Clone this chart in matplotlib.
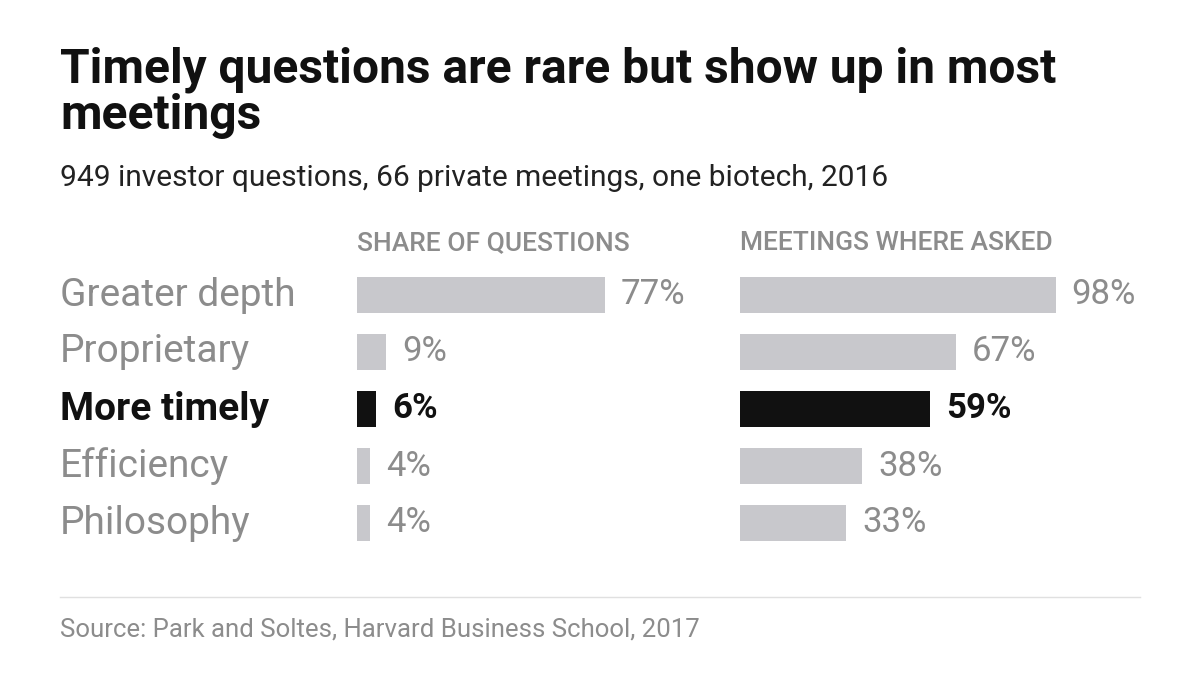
import matplotlib.pyplot as plt

categories = ["Greater depth", "Proprietary", "More timely", "Efficiency", "Philosophy"]
share_of_questions = [77, 9, 6, 4, 4]
meetings_where_asked = [98, 67, 59, 38, 33]
highlight = "More timely"

W, H = 1200, 675
fig = plt.figure(figsize=(12, 6.75), dpi=100)
plt.rcParams['font.family'] = ['Roboto', 'DejaVu Sans']

GREY_BAR = "#c8c8cc"
GREY_TXT = "#8c8c8c"
BLACK = "#111111"


def fx(px):
    return px / W


def fy(py):
    return 1 - py / H


fig.text(fx(60), fy(93), "Timely questions are rare but show up in most\nmeetings",
         fontsize=34.5, fontweight="bold", color=BLACK, va="center", linespacing=1.0)
fig.text(fx(60), fy(178), "949 investor questions, 66 private meetings, one biotech, 2016",
         fontsize=21.5, color="#222222", va="center")

row_top, row_h = 266.5, 57
panels = [(357, share_of_questions, "SHARE OF QUESTIONS"),
          (740, meetings_where_asked, "MEETINGS WHERE ASKED")]
for x0, vals, head in panels:
    ax = fig.add_axes([fx(x0), fy(row_top + row_h * 5), 322 / W, row_h * 5 / H])
    cols = [BLACK if c == highlight else GREY_BAR for c in categories]
    ax.barh(range(len(vals)), vals, height=0.63, color=cols)
    for i, (c, v) in enumerate(zip(categories, vals)):
        hl = c == highlight
        ax.text(v + 5, i, f"{v}%", va="center", ha="left", fontsize=25,
                color=BLACK if hl else GREY_TXT, fontweight="bold" if hl else "normal")
    ax.set_xlim(0, 100)
    ax.set_ylim(4.5, -0.5)
    ax.axis("off")
    fig.text(fx(x0), fy(243), head, fontsize=19, color=GREY_TXT, va="center",
             fontweight="medium")

for i, c in enumerate(categories):
    hl = c == highlight
    fig.text(fx(60), fy(row_top + row_h * (i + 0.5)), c, fontsize=28, va="center",
             color=BLACK if hl else GREY_TXT, fontweight="bold" if hl else "normal")

fig.add_artist(plt.Line2D([fx(60), fx(1140)], [fy(597), fy(597)], color="#e0e0e0", lw=1))
fig.text(fx(60), fy(630), "Source: Park and Soltes, Harvard Business School, 2017",
         fontsize=18.5, color=GREY_TXT, va="center")

fig.savefig("out.png", dpi=100)
